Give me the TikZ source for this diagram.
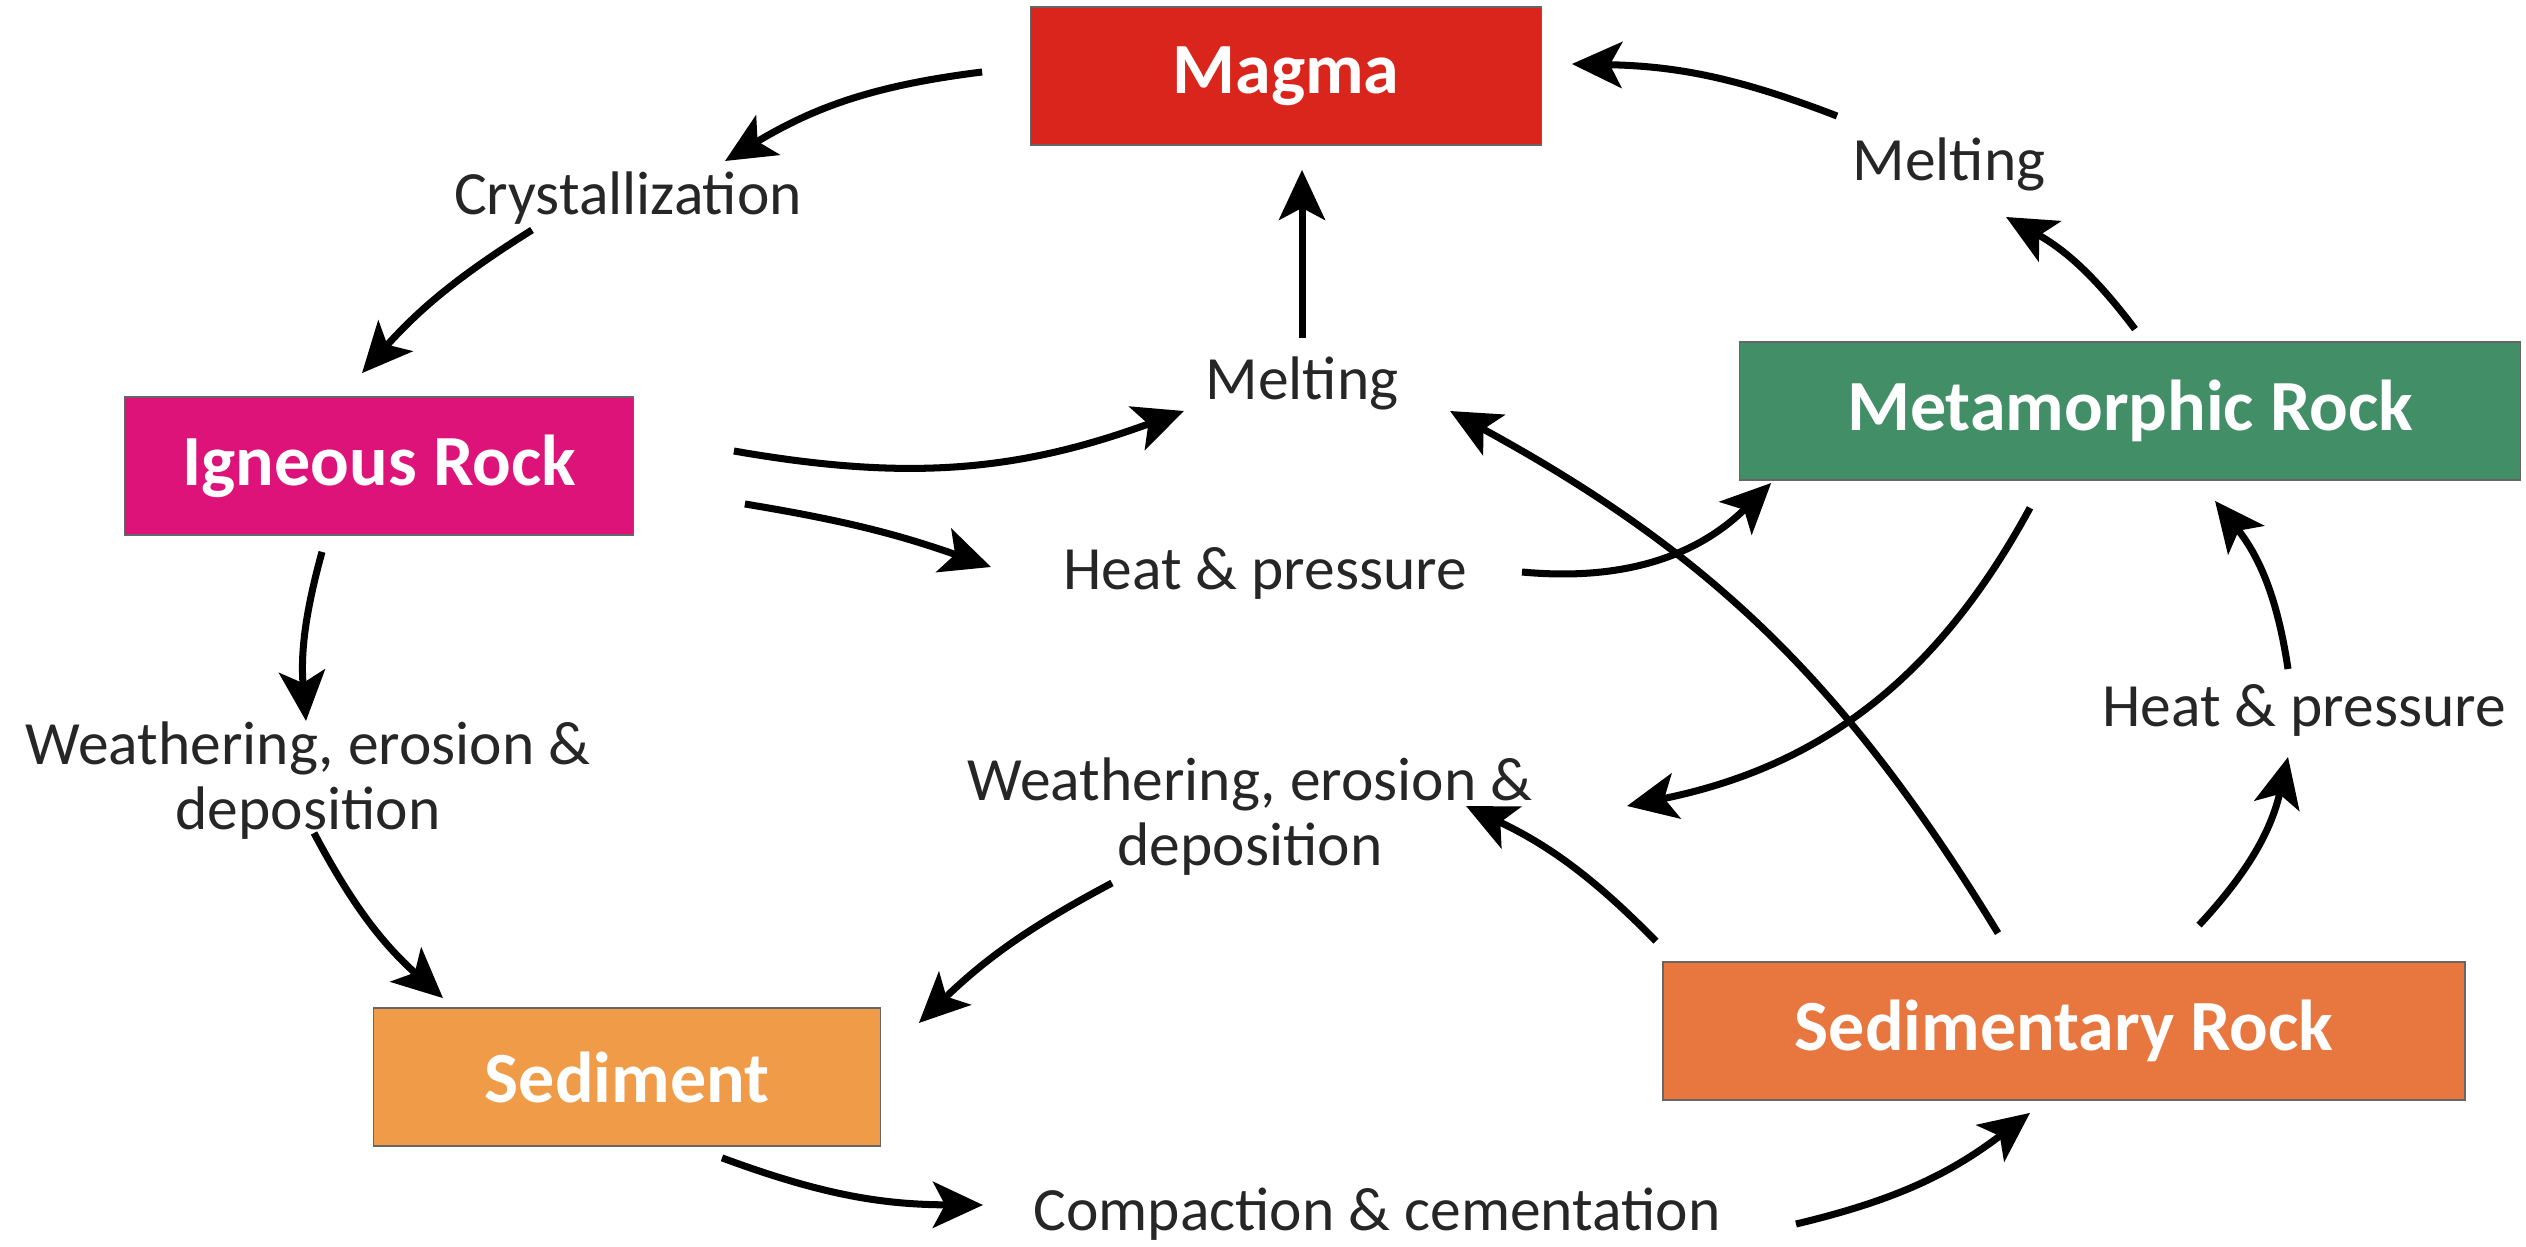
\documentclass[tikz,border=0pt]{standalone}
\usepackage{fontspec}
\setmainfont{Carlito}
\usetikzlibrary{arrows.meta,positioning}

\definecolor{magmared}{RGB}{218,37,29}
\definecolor{igneouspink}{RGB}{222,19,122}
\definecolor{metagreen}{RGB}{66,143,103}
\definecolor{sedrockorange}{RGB}{232,119,63}
\definecolor{sedimentorange}{RGB}{239,155,72}

\begin{document}
\begin{tikzpicture}[
    rock/.style={
      draw=black!60,
      line width=0.5pt,
      minimum height=1.38cm,
      text=white,
      font=\fontsize{20.5}{24}\selectfont\bfseries
    },
    proc/.style={
      inner sep=0pt,
      align=center,
      text=black!85,
      font=\fontsize{17.5}{18.5}\selectfont
    },
    flow/.style={
      line width=2pt,
      -{Stealth[length=5mm,width=4.6mm,inset=1.2mm]}
    }
    ]
    \useasboundingbox (0,0) rectangle (25.26,12.46);

    % rock boxes
    \node[rock,fill=magmared,minimum width=5.11cm] at (12.86,11.70)
      (magma) {Magma};
    \node[rock,fill=igneouspink,minimum width=5.09cm] at (3.79,7.80)
      (ign) {Igneous Rock};
    \node[rock,fill=metagreen,minimum width=7.81cm] at (21.30,8.35)
      (meta) {Metamorphic Rock};
    \node[rock,fill=sedimentorange,minimum width=5.07cm] at (6.27,1.69)
      (sed) {Sediment};
    \node[rock,fill=sedrockorange,minimum width=8.02cm] at (20.64,2.15)
      (sedr) {Sedimentary Rock};

    % processes
    \node[proc] at (6.28,10.48) (cryst) {Crystallization};
    \node[proc] at (19.49,10.82) (melt1) {Melting};
    \node[proc] at (13.02,8.63) (melt2) {Melting};
    \node[proc] at (12.65,6.73) (hp1) {Heat \& pressure};
    \node[proc] at (23.04,5.36) (hp2) {Heat \& pressure};
    \node[proc] at (3.08,4.65) (we1) {Weathering, erosion \&\\deposition};
    \node[proc] at (12.50,4.29) (we2) {Weathering, erosion \&\\deposition};
    \node[proc] at (13.77,0.32) (comp) {Compaction \& cementation};

    % outer cycle
    \draw[flow] ([shift={(-0.475,0.04)}]magma.west) to[bend right=12] ([shift={(0.97,0.37)}]cryst.center);
    \draw[flow] ([shift={(-0.96,-0.32)}]cryst.center) to[bend right=8] ([shift={(-0.17,0.23)}]ign.north);
    \draw[flow] ([shift={(-0.57,-0.16)}]ign.south) to[bend right=10] ([shift={(-0.02,0.6)}]we1.center);
    \draw[flow] ([shift={(0.06,-0.52)}]we1.center) to[bend right=10] ([shift={(-1.84,0.09)}]sed.north);
    \draw[flow] ([shift={(0.95,-0.11)}]sed.south) to[bend right=10] ([shift={(-3.94,0.09)}]comp.center);
    \draw[flow] ([shift={(4.19,-0.10)}]comp.center) to[bend right=12] ([shift={(-0.34,-0.12)}]sedr.south);
    \draw[flow] ([shift={(1.35,0.36)}]sedr.north) to[bend right=15] ([shift={(-0.16,-0.47)}]hp2.center);
    \draw[flow] ([shift={(-0.16,0.41)}]hp2.center) to[bend right=15] ([shift={(0.85,-0.20)}]meta.south);
    \draw[flow] ([shift={(0.05,0.12)}]meta.north) to[bend right=12] ([shift={(0.57,-0.53)}]melt1.center);
    \draw[flow] ([shift={(-1.12,0.48)}]melt1.center) to[bend right=10] ([shift={(0.295,0.12)}]magma.east);

    % inner paths
    \draw[flow] ([shift={(0,0.45)}]melt2.center) -- ([shift={(0.16,-0.24)}]magma.south);
    \draw[flow] ([shift={(0.995,0.15)}]ign.east) to[bend right=15] ([shift={(-1.18,-0.28)}]melt2.center);
    \draw[flow] ([shift={(1.105,-0.38)}]ign.east) to[bend left=5] ([shift={(-2.74,0.06)}]hp1.center);
    \draw[flow] ([shift={(2.57,0.01)}]hp1.center) to[bend right=25] ([shift={(0.325,-0.72)}]meta.west);
    \draw[flow] ([shift={(-1.0,-0.27)}]meta.south) to[bend left=25] ([shift={(3.77,0.11)}]we2.center);
    \draw[flow] ([shift={(-0.66,0.28)}]sedr.north) to[bend right=15] ([shift={(1.48,-0.28)}]melt2.center);
    \draw[flow] ([shift={(-4.08,0.20)}]sedr.north) to[bend right=10] ([shift={(2.16,0.11)}]we2.center);
    \draw[flow] ([shift={(-1.38,-0.66)}]we2.center) to[bend right=8] ([shift={(0.375,0.54)}]sed.east);
\end{tikzpicture}
\end{document}
